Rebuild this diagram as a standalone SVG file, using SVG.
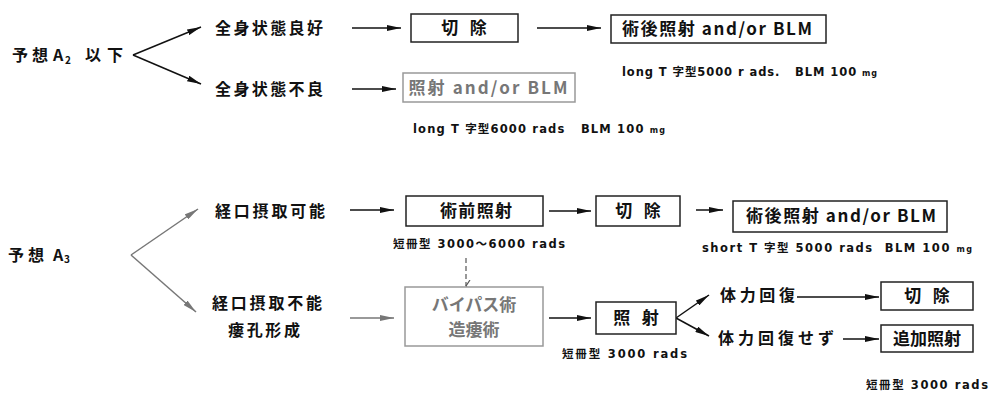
<svg xmlns="http://www.w3.org/2000/svg" width="993" height="394" viewBox="0 0 993 394">
<style>
.t{font-family:"Noto Sans CJK JP","Noto Sans",sans-serif;font-size:16px;font-weight:700;fill:#111}
.b{font-family:"Noto Sans CJK JP","Noto Sans",sans-serif;font-size:17px;font-weight:700;fill:#111}
.g{fill:#777}
.s{font-family:"DejaVu Sans","Noto Sans CJK JP",sans-serif;font-size:11.5px;font-weight:700;fill:#111}
.box{fill:#fff;stroke:#222;stroke-width:1.5}
.gbox{fill:#fff;stroke:#999;stroke-width:1.5}
.ln{stroke:#111;stroke-width:1.5;fill:none;marker-end:url(#ah)}
.lg{stroke:#777;stroke-width:1.5;fill:none;marker-end:url(#ahg)}
</style>
<defs>
<marker id="ah" markerUnits="userSpaceOnUse" markerWidth="14" markerHeight="6" refX="14" refY="3" orient="auto"><path d="M0,0 L14,3 L0,6 z" fill="#111"/></marker>
<marker id="ahg" markerUnits="userSpaceOnUse" markerWidth="14" markerHeight="6" refX="14" refY="3" orient="auto"><path d="M0,0 L14,3 L0,6 z" fill="#777"/></marker>
<marker id="av" markerUnits="userSpaceOnUse" markerWidth="12" markerHeight="8" refX="6" refY="6" orient="auto"><path d="M0,2 L6,6 L12,2" fill="none" stroke="#555" stroke-width="1.2"/></marker>
</defs>
<rect width="993" height="394" fill="#fff"/>

<g id="connectors">
<line class="ln" x1="133" y1="55" x2="201" y2="27"/>
<line class="ln" x1="133" y1="55" x2="201" y2="84"/>
<line class="ln" x1="352" y1="28" x2="401" y2="28"/>
<line class="ln" x1="537" y1="28" x2="601" y2="28"/>
<line class="ln" x1="352" y1="89" x2="396" y2="89"/>
<line class="lg" x1="131" y1="255" x2="198" y2="209"/>
<line class="lg" x1="131" y1="255" x2="196" y2="312"/>
<line class="ln" x1="350" y1="210" x2="394" y2="210"/>
<line class="lg" x1="350" y1="318" x2="394" y2="318"/>
<line stroke="#555" stroke-width="1.2" stroke-dasharray="5,3" x1="466" y1="258" x2="466" y2="286" marker-end="url(#av)"/>
<line class="ln" x1="549" y1="211" x2="591" y2="211"/>
<line class="ln" x1="549" y1="318" x2="591" y2="318"/>
<line class="ln" x1="696" y1="210" x2="723" y2="210"/>
<line class="ln" x1="676" y1="318" x2="709" y2="295"/>
<line class="ln" x1="676" y1="318" x2="709" y2="336"/>
<line class="ln" x1="797" y1="297" x2="879" y2="297"/>
<line class="ln" x1="843" y1="339" x2="879" y2="339"/>
</g>

<g id="n-a2"><text class="t" y="61"><tspan x="12">予</tspan><tspan x="32">想</tspan><tspan x="53">A</tspan><tspan x="65" dy="3" font-size="10">2</tspan><tspan x="85" dy="-3">以</tspan><tspan x="107">下</tspan></text></g>
<g id="n-good"><text class="t" x="215" y="34" textLength="108" lengthAdjust="spacing">全身状態良好</text></g>
<g id="n-bad"><text class="t" x="215" y="95" textLength="108" lengthAdjust="spacing">全身状態不良</text></g>
<g id="n-excise1"><rect class="box" x="411" y="14" width="107" height="28"/><text class="b" x="464" y="34" text-anchor="middle" xml:space="preserve">切   除</text></g>
<g id="n-post1"><rect class="box" x="611" y="15" width="215" height="28"/><text class="b" x="717" y="35" text-anchor="middle" textLength="190" lengthAdjust="spacing">術後照射 and/or BLM</text>
<text class="s" x="622" y="76" textLength="255" lengthAdjust="spacing" xml:space="preserve">long T 字型5000 r ads.   BLM 100 <tspan font-size="8">mg</tspan></text></g>
<g id="n-rad1"><rect class="gbox" x="403" y="73" width="172" height="29"/><text class="b g" x="488" y="94" text-anchor="middle" textLength="159" lengthAdjust="spacing">照射 and/or BLM</text>
<text class="s" x="413" y="133" textLength="252" lengthAdjust="spacing" xml:space="preserve">long T 字型6000 rads   BLM 100 <tspan font-size="8">mg</tspan></text></g>

<g id="n-a3"><text class="t" y="261"><tspan x="8">予</tspan><tspan x="28">想</tspan><tspan x="53">A</tspan><tspan x="64" dy="2" font-size="10">3</tspan></text></g>
<g id="n-oral"><text class="t" x="215" y="217" textLength="110" lengthAdjust="spacing">経口摂取可能</text></g>
<g id="n-nooral"><text class="t" x="212" y="309" textLength="110" lengthAdjust="spacing">経口摂取不能</text><text class="t" x="228" y="336" textLength="72" lengthAdjust="spacing">瘻孔形成</text></g>
<g id="n-prerad"><rect class="box" x="406" y="196" width="137" height="30"/><text class="b" x="476" y="217" text-anchor="middle" textLength="72" lengthAdjust="spacing">術前照射</text>
<text class="s" x="393" y="248" textLength="172" lengthAdjust="spacing" xml:space="preserve">短冊型 3000～6000 rads</text></g>
<g id="n-bypass"><rect class="gbox" x="405" y="287" width="138" height="59"/><text class="b g" x="474" y="311" text-anchor="middle">バイパス術</text><text class="b g" x="474" y="336" text-anchor="middle">造瘻術</text></g>
<g id="n-excise2"><rect class="box" x="596" y="196" width="84" height="30"/><text class="b" x="638" y="217" text-anchor="middle" xml:space="preserve">切   除</text></g>
<g id="n-post2"><rect class="box" x="733" y="201" width="214" height="31"/><text class="b" x="841" y="222" text-anchor="middle" textLength="190" lengthAdjust="spacing">術後照射 and/or BLM</text>
<text class="s" x="702" y="252" textLength="270" lengthAdjust="spacing" xml:space="preserve">short T 字型 5000 rads  BLM 100 <tspan font-size="8">mg</tspan></text></g>
<g id="n-rad2"><rect class="box" x="596" y="302" width="80" height="32"/><text class="b" x="636" y="324" text-anchor="middle" xml:space="preserve">照   射</text>
<text class="s" x="562" y="358" textLength="125" lengthAdjust="spacing" xml:space="preserve">短冊型 3000 rads</text></g>
<g id="n-recover"><text class="t" x="720" y="301" textLength="75" lengthAdjust="spacing">体力回復</text></g>
<g id="n-norecover"><text class="t" x="718" y="344" textLength="116" lengthAdjust="spacing">体力回復せず</text></g>
<g id="n-excise3"><rect class="box" x="881" y="282" width="92" height="28"/><text class="b" x="927" y="302" text-anchor="middle" xml:space="preserve">切   除</text></g>
<g id="n-addrad"><rect class="box" x="881" y="325" width="92" height="27"/><text class="b" x="927" y="345" text-anchor="middle">追加照射</text>
<text class="s" x="866" y="389" textLength="122" lengthAdjust="spacing" xml:space="preserve">短冊型 3000 rads</text></g>
</svg>
